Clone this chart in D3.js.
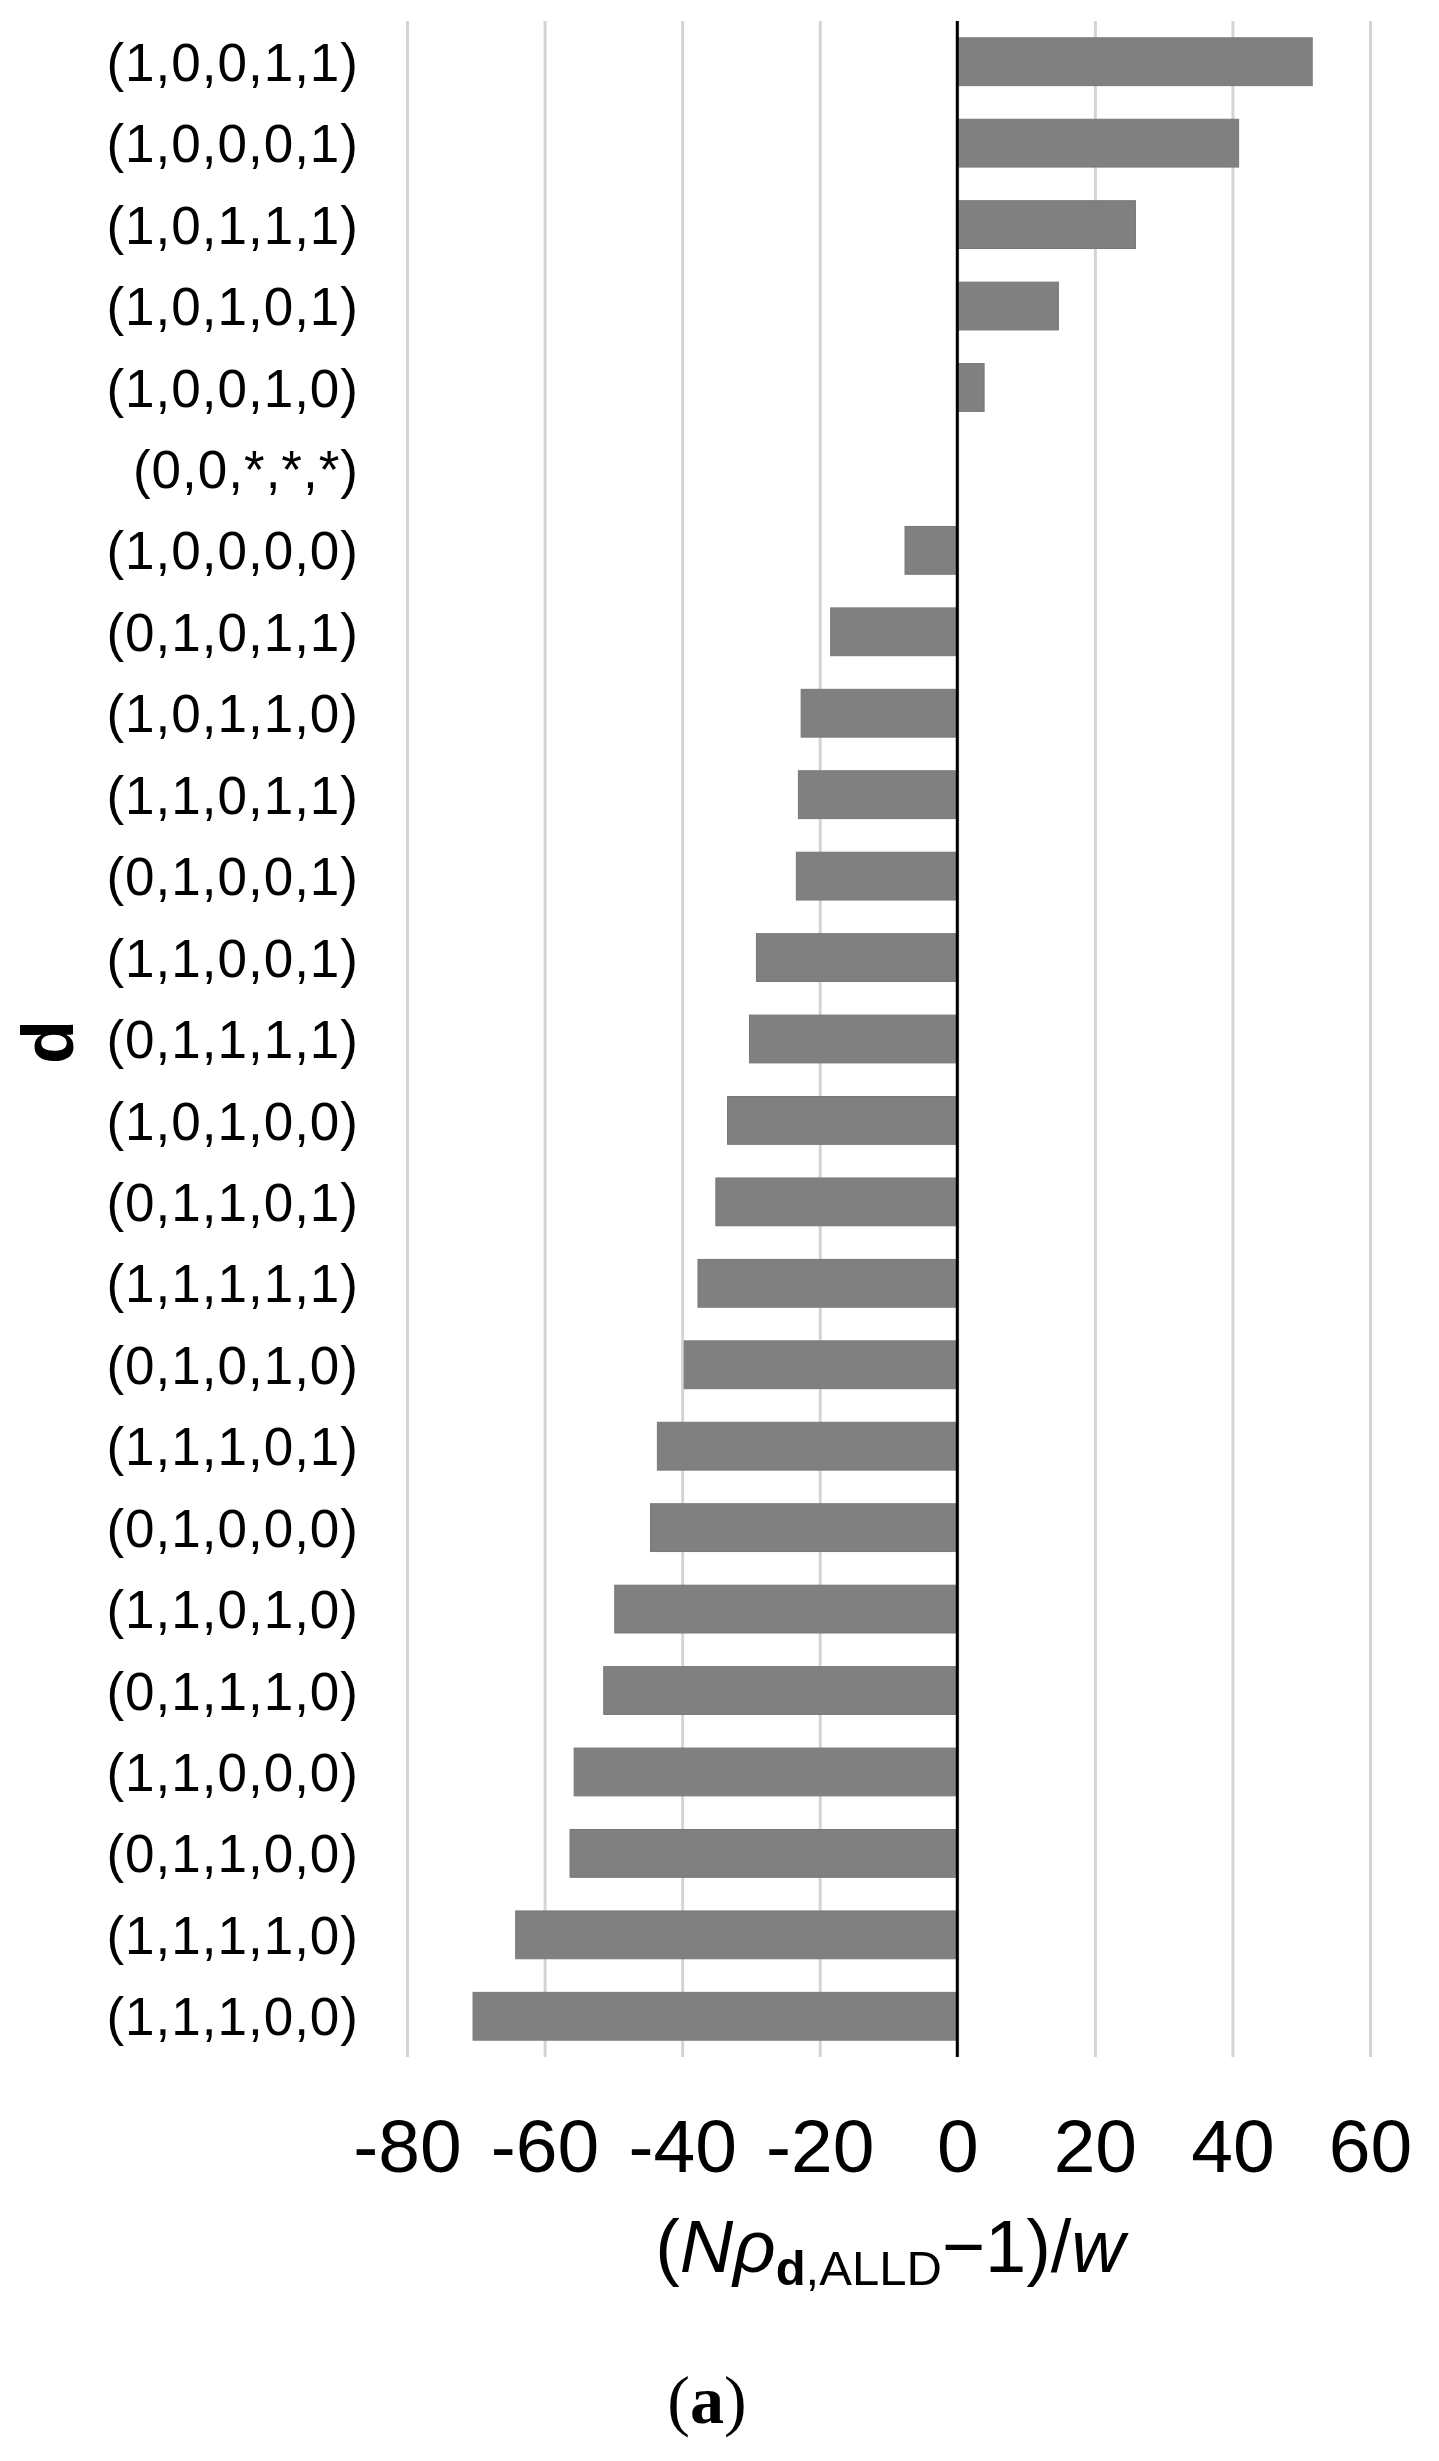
<!DOCTYPE html>
<html>
<head>
<meta charset="utf-8">
<script src="https://cdn.jsdelivr.net/npm/d3@7"></script>
<style>
  html, body { margin: 0; padding: 0; background: #fff; }
  svg { display: block; }
</style>
</head>
<body>
<script>
const categories = [
  "(1,0,0,1,1)", "(1,0,0,0,1)", "(1,0,1,1,1)", "(1,0,1,0,1)", "(1,0,0,1,0)",
  "(0,0,*,*,*)", "(1,0,0,0,0)", "(0,1,0,1,1)", "(1,0,1,1,0)", "(1,1,0,1,1)",
  "(0,1,0,0,1)", "(1,1,0,0,1)", "(0,1,1,1,1)", "(1,0,1,0,0)", "(0,1,1,0,1)",
  "(1,1,1,1,1)", "(0,1,0,1,0)", "(1,1,1,0,1)", "(0,1,0,0,0)", "(1,1,0,1,0)",
  "(0,1,1,1,0)", "(1,1,0,0,0)", "(0,1,1,0,0)", "(1,1,1,1,0)", "(1,1,1,0,0)"
];
const values = [
  51.6, 40.9, 25.9, 14.7, 3.9,
  0, -7.6, -18.4, -22.7, -23.1,
  -23.4, -29.2, -30.2, -33.4, -35.1,
  -37.7, -39.7, -43.6, -44.6, -49.8,
  -51.4, -55.7, -56.3, -64.2, -70.4
];
const xTicks = [-80, -60, -40, -20, 0, 20, 40, 60];
const xDomain = [-80, 60];
const yTitle = "d";
const panelLabel = "a";

const W = 1439, H = 2461;
const plot = { left: 407, right: 1370, top: 21, bottom: 2057 };
const SANS = "'Liberation Sans', Arial, sans-serif";

const svg = d3.select("body").append("svg")
  .attr("width", W).attr("height", H)
  .style("font-family", SANS);

const x = d3.scaleLinear().domain(xDomain).range([plot.left, plot.right]);
const y = d3.scaleBand().domain(categories).range([plot.top, plot.bottom]).paddingInner(0.413).paddingOuter(0.2065);

// gridlines
svg.append("g")
  .attr("transform", `translate(0,${plot.bottom})`)
  .call(d3.axisBottom(x).tickValues(xTicks).tickSize(-(plot.bottom - plot.top)).tickFormat(""))
  .call(g => g.select(".domain").remove())
  .call(g => g.selectAll(".tick line").attr("stroke", "#d4d4d4").attr("stroke-width", 3));

// bars
svg.append("g").selectAll("rect")
  .data(values.map((v, i) => ({ c: categories[i], v })))
  .join("rect")
  .attr("x", d => Math.min(x(0), x(d.v)))
  .attr("y", d => y(d.c))
  .attr("width", d => Math.abs(x(d.v) - x(0)))
  .attr("height", y.bandwidth())
  .attr("fill", "#808080")
  .attr("stroke", "#777")
  .attr("stroke-width", 1);

// zero line
svg.append("line")
  .attr("x1", x(0)).attr("x2", x(0))
  .attr("y1", plot.top).attr("y2", plot.bottom)
  .attr("stroke", "#000").attr("stroke-width", 3);

// x tick labels
svg.append("g")
  .attr("transform", `translate(0,${plot.bottom})`)
  .call(d3.axisBottom(x).tickValues(xTicks).tickSize(0).tickPadding(0))
  .call(g => g.select(".domain").remove())
  .call(g => g.selectAll(".tick text")
    .attr("y", 115).attr("dy", null)
    .attr("font-size", 75)
    .attr("font-family", SANS)
    .attr("fill", "#000")
    .text(d => d < 0 ? "-" + Math.abs(d) : String(d)));

// y category labels
svg.append("g")
  .attr("transform", `translate(359,0)`)
  .call(d3.axisLeft(y).tickSize(0).tickPadding(0))
  .call(g => g.select(".domain").remove())
  .call(g => g.selectAll(".tick text")
    .attr("x", 0).attr("dy", "0.36em")
    .attr("font-size", 53)
    .attr("letter-spacing", "1px")
    .attr("font-family", SANS)
    .attr("fill", "#000"));

// y title
svg.append("text")
  .attr("transform", `translate(73,${(plot.top + plot.bottom) / 2 + 3}) rotate(-90)`)
  .attr("text-anchor", "middle")
  .attr("font-size", 72)
  .attr("font-weight", "bold")
  .text(yTitle);

// x title
const xt = svg.append("text")
  .attr("x", 890).attr("y", 2272)
  .attr("text-anchor", "middle")
  .attr("font-size", 74);
xt.append("tspan").text("(");
xt.append("tspan").attr("font-style", "italic").text("Nρ");
xt.append("tspan").attr("font-size", 49).attr("font-weight", "bold").attr("dy", 13).text("d");
xt.append("tspan").attr("font-size", 49).text(",ALLD");
xt.append("tspan").attr("dy", -13).text("−1)/");
xt.append("tspan").attr("font-style", "italic").text("w");

// panel label
const pl = svg.append("text")
  .attr("x", 707).attr("y", 2423)
  .attr("text-anchor", "middle")
  .attr("font-family", "'Liberation Serif', 'Times New Roman', serif")
  .attr("font-size", 68);
pl.append("tspan").text("(");
pl.append("tspan").attr("font-weight", "bold").text(panelLabel);
pl.append("tspan").text(")");
</script>
</body>
</html>
